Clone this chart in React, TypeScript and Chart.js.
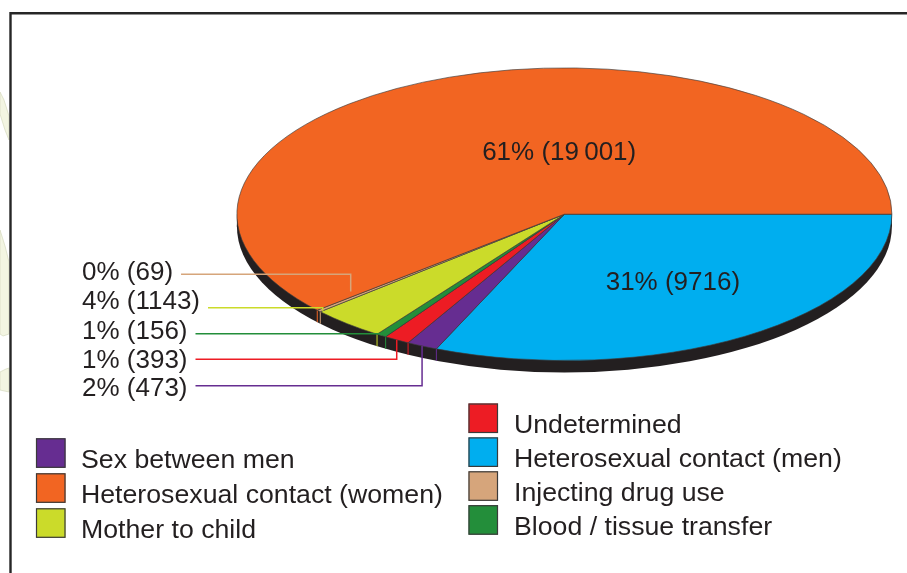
import React, { useEffect, useRef } from 'react';
import { Chart, registerables } from 'chart.js';

Chart.register(...registerables);

// ---- data (slice order: clockwise starting at 3 o'clock) ----
const categories = [
  'Heterosexual contact (men)',
  'Sex between men',
  'Undetermined',
  'Blood / tissue transfer',
  'Mother to child',
  'Injecting drug use',
  'Heterosexual contact (women)',
];
const caseCounts = [9716, 473, 393, 156, 1143, 69, 19001];
const sliceColors = ['#00aeef', '#662d91', '#ed1c24', '#238e3a', '#cbdb2a', '#d6a57b', '#f26522'];

// legend columns
const legendLeft = ['Sex between men', 'Heterosexual contact (women)', 'Mother to child'];
const legendRight = ['Undetermined', 'Heterosexual contact (men)', 'Injecting drug use', 'Blood / tissue transfer'];

// labels with leader lines (top to bottom) and labels drawn inside slices
const leaderLabelOrder = ['Injecting drug use', 'Mother to child', 'Blood / tissue transfer', 'Undetermined', 'Sex between men'];
const insideLabelOrder = ['Heterosexual contact (women)', 'Heterosexual contact (men)'];

// ---- layout / style ----
const W = 907;
const H = 573;
const CX = 564.4;
const CY = 214.2;
const RX = 327.5;
const RY = 146.3;
const DEPTH = 12;
const SIDE = '#231f20';
const TEXT = '#231f20';
const FONT = '26px "Liberation Sans", Arial, Helvetica, sans-serif';
const LEGEND_FONT = '26.7px "Liberation Sans", Arial, Helvetica, sans-serif';

const LEADER_TEXT_X = 82;
const LEADER_BASELINES = [279.5, 309, 339, 367.5, 396];
const LEADER_LINE_Y = [274.3, 307.7, 333.7, 359.3, 385.7];
const LEADER_ANGLE_FRAC = [0.5, 1.0, 0.5, 0.5, 0.5];
const LEADER_RADIUS_FRAC = [0.87, 0.99, 1, 1, 1];
const LEADER_LIFT = [-7, 0, 0, 0, 0];
const INSIDE_POS = [
  [559.2, 160],
  [672.9, 290],
];

const LEG_LEFT_SW_X = 36;
const LEG_LEFT_TEXT_X = 81;
const LEG_LEFT_TOP = 438.3;
const LEG_LEFT_PITCH = 35;
const LEG_RIGHT_SW_X = 468.5;
const LEG_RIGHT_TEXT_X = 514;
const LEG_RIGHT_TOP = 403.5;
const LEG_RIGHT_PITCH = 33.9;
const SW = 29.5;

function formatCount(v: number): string {
  const s = String(v);
  if (v >= 10000) return s.slice(0, s.length - 3) + '\u2009' + s.slice(s.length - 3);
  return s;
}

function labelText(v: number, total: number): string {
  return Math.round((v / total) * 100) + '% (' + formatCount(v) + ')';
}

const pie3d = {
  id: 'pie3d',
  afterDatasetsUpdate(chart: any) {
    const meta = chart.getDatasetMeta(0);
    meta.data.forEach((el: any) => {
      el.x = CX;
      el.y = CY;
      el.outerRadius = RX;
      el.innerRadius = 0;
    });
  },
  beforeDraw(chart: any) {
    const ctx = chart.ctx;
    ctx.save();
    ctx.fillStyle = '#ffffff';
    ctx.fillRect(0, 0, W, H);
    // faint background leaves outside the frame
    ctx.fillStyle = '#f3f5e2';
    ctx.strokeStyle = '#d6dabf';
    ctx.lineWidth = 0.7;
    const shapes = [
      [[0, 92], [4, 100], [9, 116], [9, 140], [5, 130], [0, 114]],
      [[0, 230], [5, 246], [9, 262], [9, 334], [3, 336], [0, 334]],
      [[0, 372], [6, 369], [9, 368], [9, 392], [0, 390]],
    ];
    shapes.forEach((pts) => {
      ctx.beginPath();
      pts.forEach(([x, y], i) => (i ? ctx.lineTo(x, y) : ctx.moveTo(x, y)));
      ctx.closePath();
      ctx.fill();
      ctx.stroke();
    });
    ctx.restore();
  },
  beforeDatasetsDraw(chart: any) {
    const ctx = chart.ctx;
    const meta = chart.getDatasetMeta(0);
    ctx.save();
    // side of the disc
    ctx.fillStyle = SIDE;
    ctx.beginPath();
    ctx.ellipse(CX, CY + DEPTH, RX, RY, 0, 0, Math.PI * 2);
    ctx.fill();
    ctx.fillRect(CX - RX, CY, 2 * RX, DEPTH);
    // slice edges on the side
    ctx.lineWidth = 1;
    meta.data.forEach((el: any, i: number) => {
      let a = el.startAngle % (Math.PI * 2);
      if (a < 0) a += Math.PI * 2;
      if (a > 0.05 && a < Math.PI - 0.05) {
        const x = CX + RX * Math.cos(a);
        const y = CY + RY * Math.sin(a);
        ctx.strokeStyle = sliceColors[i];
        ctx.beginPath();
        ctx.moveTo(x, y);
        ctx.lineTo(x, y + DEPTH);
        ctx.stroke();
      }
    });
    ctx.restore();
    // squash the top face into an ellipse
    ctx.save();
    ctx.translate(0, CY);
    ctx.scale(1, RY / RX);
    ctx.translate(0, -CY);
  },
  afterDatasetsDraw(chart: any) {
    const ctx = chart.ctx;
    ctx.restore();
    const meta = chart.getDatasetMeta(0);
    const values: number[] = chart.data.datasets[0].data;
    const total = values.reduce((s: number, v: number) => s + v, 0);

    ctx.save();
    ctx.font = FONT;
    ctx.fillStyle = TEXT;
    ctx.textBaseline = 'alphabetic';

    // leader labels
    leaderLabelOrder.forEach((name, r) => {
      const idx = categories.indexOf(name);
      const el: any = meta.data[idx];
      const txt = labelText(values[idx], total);
      ctx.textAlign = 'left';
      ctx.fillStyle = TEXT;
      ctx.fillText(txt, LEADER_TEXT_X, LEADER_BASELINES[r]);
      const tw = ctx.measureText(txt).width;
      const a = el.startAngle + LEADER_ANGLE_FRAC[r] * (el.endAngle - el.startAngle);
      const ax = CX + RX * LEADER_RADIUS_FRAC[r] * Math.cos(a);
      const ay = CY + RY * LEADER_RADIUS_FRAC[r] * Math.sin(a) + LEADER_LIFT[r];
      ctx.strokeStyle = sliceColors[idx];
      ctx.lineWidth = 1.5;
      ctx.beginPath();
      ctx.moveTo(LEADER_TEXT_X + tw + 8, LEADER_LINE_Y[r]);
      ctx.lineTo(ax, LEADER_LINE_Y[r]);
      ctx.lineTo(ax, ay);
      ctx.stroke();
    });

    // labels inside slices
    insideLabelOrder.forEach((name, r) => {
      const idx = categories.indexOf(name);
      ctx.textAlign = 'center';
      ctx.fillStyle = TEXT;
      ctx.fillText(labelText(values[idx], total), INSIDE_POS[r][0], INSIDE_POS[r][1]);
    });

    // legend
    ctx.font = LEGEND_FONT;
    const drawItem = (name: string, sx: number, tx: number, top: number) => {
      const idx = categories.indexOf(name);
      ctx.fillStyle = sliceColors[idx];
      ctx.fillRect(sx, top, SW, SW);
      ctx.strokeStyle = '#3a3a3a';
      ctx.lineWidth = 1.2;
      ctx.strokeRect(sx + 0.5, top + 0.5, SW - 1, SW - 1);
      ctx.fillStyle = TEXT;
      ctx.textAlign = 'left';
      ctx.fillText(name, tx, top + SW);
    };
    legendLeft.forEach((n, i) => drawItem(n, LEG_LEFT_SW_X, LEG_LEFT_TEXT_X, LEG_LEFT_TOP + i * LEG_LEFT_PITCH));
    legendRight.forEach((n, i) => drawItem(n, LEG_RIGHT_SW_X, LEG_RIGHT_TEXT_X, LEG_RIGHT_TOP + i * LEG_RIGHT_PITCH));

    // frame
    ctx.strokeStyle = '#262626';
    ctx.lineWidth = 2.4;
    ctx.beginPath();
    ctx.moveTo(10.5, H + 10);
    ctx.lineTo(10.5, 13.3);
    ctx.lineTo(W + 10, 13.3);
    ctx.stroke();
    ctx.restore();
  },
};

export default function App() {
  const ref = useRef<HTMLCanvasElement | null>(null);
  useEffect(() => {
    document.body.style.margin = '0';
    if (!ref.current) return;
    const chart = new Chart(ref.current, {
      type: 'pie',
      data: {
        labels: categories,
        datasets: [
          {
            data: caseCounts,
            backgroundColor: sliceColors,
            borderColor: '#3c3c3c',
            borderWidth: 0.9,
            clip: false,
          } as any,
        ],
      },
      options: {
        responsive: false,
        maintainAspectRatio: false,
        animation: false,
        events: [],
        rotation: 90,
        layout: { padding: 0 },
        plugins: {
          legend: { display: false },
          tooltip: { enabled: false },
        },
      } as any,
      plugins: [pie3d as any],
    });
    return () => chart.destroy();
  }, []);
  return (
    <div style={{ width: W, height: H }}>
      <canvas ref={ref} width={W} height={H} style={{ display: 'block' }} />
    </div>
  );
}
